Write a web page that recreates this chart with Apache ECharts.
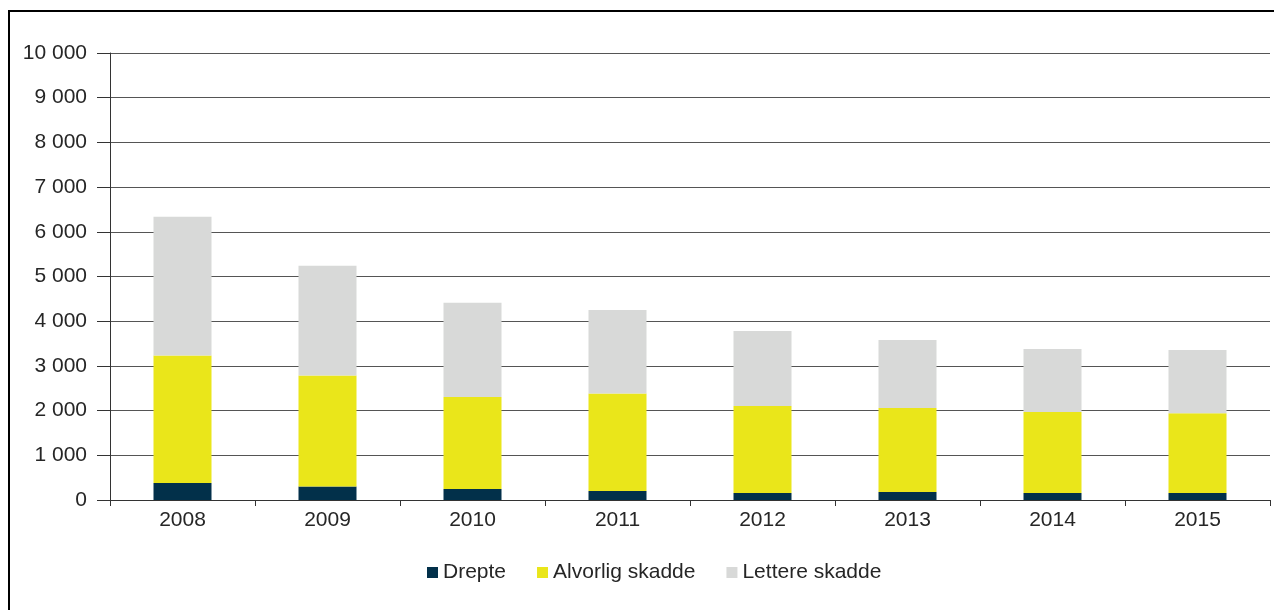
<!DOCTYPE html>
<html>
<head>
<meta charset="utf-8">
<script src="https://cdn.jsdelivr.net/npm/echarts@6/dist/echarts.min.js"></script>
<style>
  html, body { margin: 0; padding: 0; background: #fff; }
  #wrap { position: relative; width: 1274px; height: 610px; overflow: hidden; }
  #chart { position: absolute; left: 0; top: 0; width: 1274px; height: 610px; }
  #frame {
    position: absolute; left: 8px; top: 10px; width: 2000px; height: 2000px;
    border-top: 2px solid #000; border-left: 2px solid #000; pointer-events: none;
  }
</style>
</head>
<body>
<div id="wrap">
  <div id="chart"></div>
  <div id="frame"></div>
</div>
<script>
// Trafikkskadde per år
const years = ['2008', '2009', '2010', '2011', '2012', '2013', '2014', '2015'];
const drepte = [380, 300, 245, 200, 157, 180, 157, 157];
const alvorligSkadde = [2851, 2483, 2061, 2181, 1947, 1880, 1813, 1783];
const lettereSkadde = [3104, 2455, 2104, 1872, 1679, 1522, 1410, 1418];
const seriesNames = ['Drepte', 'Alvorlig skadde', 'Lettere skadde'];
const seriesColors = ['#02304A', '#EAE61A', '#D8D9D8'];

const font = 'Liberation Sans, Arial, sans-serif';
const textColor = '#262626';

function fmt(v) {
  return String(v).replace(/\B(?=(\d{3})+(?!\d))/g, ' ');
}

const chart = echarts.init(document.getElementById('chart'), null, { renderer: 'canvas' });
const seriesData = [drepte, alvorligSkadde, lettereSkadde];

chart.setOption({
  animation: false,
  backgroundColor: '#fff',
  grid: { left: 110, right: 4, top: 53, bottom: 110, containLabel: false },
  legend: {
    data: seriesNames,
    top: 562,
    left: 427,
    padding: 0,
    itemWidth: 11,
    itemHeight: 11,
    itemGap: 31,
    icon: 'rect',
    textStyle: { fontFamily: font, fontSize: 21, color: textColor }
  },
  xAxis: {
    type: 'category',
    data: years,
    axisLine: { lineStyle: { color: '#333', width: 1 } },
    axisTick: { show: true, length: 6, lineStyle: { color: '#333' }, alignWithLabel: false },
    axisLabel: { fontFamily: font, fontSize: 21, color: textColor, margin: 10 }
  },
  yAxis: {
    type: 'value',
    min: 0,
    max: 10000,
    interval: 1000,
    axisLine: { show: true, lineStyle: { color: '#333', width: 1 } },
    axisTick: { show: true, length: 13, lineStyle: { color: '#333' } },
    axisLabel: { fontFamily: font, fontSize: 21, color: textColor, margin: 23, formatter: fmt },
    splitLine: { show: true, lineStyle: { color: '#555', width: 1 } }
  },
  series: seriesNames.map((name, i) => ({
    name: name,
    type: 'bar',
    stack: 'total',
    barWidth: '40%',
    itemStyle: { color: seriesColors[i] },
    data: seriesData[i]
  }))
});
</script>
</body>
</html>
